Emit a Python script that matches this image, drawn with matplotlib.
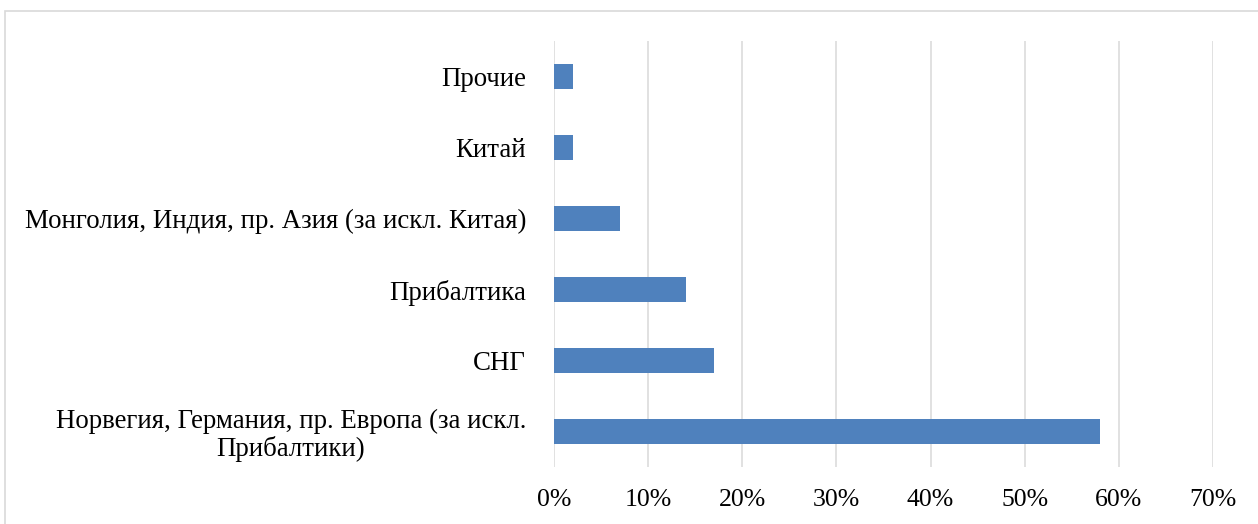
import matplotlib.pyplot as plt
from matplotlib.patches import Rectangle
from matplotlib.ticker import PercentFormatter

# data (bottom to top)
regions = [
    'Норвегия, Германия, пр. Европа (за искл.\nПрибалтики)',
    'СНГ',
    'Прибалтика',
    'Монголия, Индия, пр. Азия (за искл. Китая)',
    'Китай',
    'Прочие',
]
shares = [58, 17, 14, 7, 2, 2]
xticks = [0, 10, 20, 30, 40, 50, 60, 70]

plt.rcParams['font.family'] = ['Liberation Serif', 'DejaVu Serif']

fig = plt.figure(figsize=(12.58, 5.24), dpi=100)
ax = fig.add_axes([554 / 1258, 1 - 467 / 524, (1213 - 554) / 1258, (467 - 41) / 524])

# outer border of the chart area
fig.patches.append(Rectangle((5 / 1258, -0.1), 1.2, 1 - 11 / 524 + 0.1,
                             transform=fig.transFigure, fill=False,
                             edgecolor='#d9d9d9', linewidth=1.2))

y = list(range(len(regions)))
ax.barh(y, shares, height=0.34, color='#4f81bd', zorder=3)

ax.set_xlim(0, 70)
ax.set_ylim(-0.5, len(regions) - 0.5)
ax.set_xticks(xticks)
ax.xaxis.set_major_formatter(PercentFormatter(decimals=0))
ax.set_yticks(y)
ax.set_yticklabels(regions, multialignment='center', fontsize=19.4, linespacing=1.1)

ax.grid(axis='x', color='#d9d9d9', linewidth=1.1, zorder=0)
for s in ax.spines.values():
    s.set_visible(False)
ax.tick_params(axis='both', length=0)
ax.tick_params(axis='x', labelsize=18.5, pad=16)
ax.tick_params(axis='y', pad=20)

fig.savefig('out.png', dpi=100)
